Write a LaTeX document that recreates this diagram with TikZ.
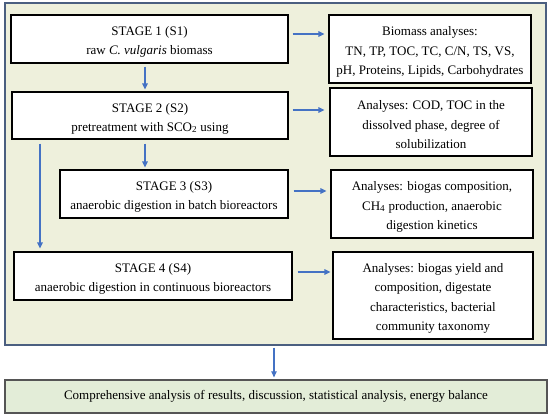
\documentclass[tikz,border=0pt]{standalone}
\usepackage{fontspec}
\setmainfont{Liberation Serif}
\usetikzlibrary{arrows.meta,calc}
\definecolor{panelfill}{HTML}{EEF0DC}
\definecolor{panelborder}{HTML}{4B5F80}
\definecolor{arrowblue}{HTML}{4472C4}
\definecolor{bottomfill}{HTML}{E3EDD8}
\definecolor{bottomborder}{HTML}{555555}
\newcommand{\topstrut}{\rule{0pt}{15pt}}
\tikzset{
  stagebox/.style={draw=black, line width=1.1pt, fill=white, align=center, inner sep=0pt,
    font=\fontsize{13}{19}\selectfont},
  anabox/.style={draw=black, line width=1.1pt, fill=white, align=center, inner sep=0pt,
    font=\fontsize{13}{19.5}\selectfont},
  arr/.style={draw=arrowblue, line width=1.1pt, -{Triangle[length=6pt,width=5.5pt]}}
}
\begin{document}
\begin{tikzpicture}[x=1pt,y=-1pt]
\useasboundingbox (0,0) rectangle (550,418);
\node[draw=panelborder, line width=1.4pt, fill=panelfill, minimum width=541pt, minimum height=342pt, inner sep=0pt] (panel) at (275.5,174) {};
\node[stagebox, minimum width=277pt, minimum height=48pt] (S1) at (149.5,39) {\topstrut STAGE 1 (S1)\\raw \textit{C. vulgaris} biomass};
\node[stagebox, minimum width=276pt, minimum height=47pt] (S2) at (150,115.5) {\topstrut STAGE 2 (S2)\\pretreatment with SCO\textsubscript{2} using};
\node[stagebox, minimum width=228pt, minimum height=48pt] (S3) at (174,194) {\topstrut STAGE 3 (S3)\\anaerobic digestion in batch bioreactors};
\node[stagebox, minimum width=278pt, minimum height=48pt] (S4) at (153,276) {\topstrut STAGE 4 (S4)\\anaerobic digestion in continuous bioreactors};
\node[anabox, minimum width=202pt, minimum height=68pt] (R1) at (430,49) {\topstrut Biomass analyses:\\TN, TP, TOC, TC, C/N, TS, VS,\\pH, Proteins, Lipids, Carbohydrates};
\node[anabox, minimum width=202pt, minimum height=68pt] (R2) at (431,122) {\topstrut Analyses: COD, TOC in the\\dissolved phase, degree of\\solubilization};
\node[anabox, minimum width=202pt, minimum height=68pt] (R3) at (432,204) {\topstrut Analyses: biogas composition,\\CH\textsubscript{4} production, anaerobic\\digestion kinetics};
\node[anabox, minimum width=200pt, minimum height=87pt] (R4) at (433,295.5) {\topstrut Analyses: biogas yield and\\composition, digestate\\characteristics, bacterial\\community taxonomy};
\node[draw=bottomborder, line width=1.3pt, fill=bottomfill, minimum width=542pt, minimum height=33pt, inner sep=0pt, font=\fontsize{13}{15}\selectfont] (B) at (276,396.5) {Comprehensive analysis of results, discussion, statistical analysis, energy balance};
% horizontal arrows
\coordinate (a1) at ([xshift=4pt,yshift=5pt]S1.east);
\draw[arr, shorten >=4pt] (a1) -- (a1 -| R1.west);
\coordinate (a2) at ([xshift=4pt,yshift=5.5pt]S2.east);
\draw[arr, shorten >=5pt] (a2) -- (a2 -| R2.west);
\coordinate (a3) at ([xshift=5pt,yshift=3pt]S3.east);
\draw[arr, shorten >=4pt] (a3) -- (a3 -| R3.west);
\coordinate (a4) at ([xshift=5pt,yshift=4pt]S4.east);
\draw[arr, shorten >=2pt] (a4) -- (a4 -| R4.west);
% vertical arrows
\coordinate (d1) at ([yshift=-3pt]S1.south -| 145,0);
\draw[arr, shorten >=2pt] (d1) -- (d1 |- S2.north);
\coordinate (d2) at ([yshift=-4pt]S2.south -| 145,0);
\draw[arr, shorten >=2pt] (d2) -- (d2 |- S3.north);
\coordinate (d3) at ([yshift=-4pt]S2.south -| 40,0);
\draw[arr, shorten >=3pt] (d3) -- (d3 |- S4.north);
\coordinate (d4) at ([yshift=-2pt]panel.south -| 274,0);
\draw[arr, shorten >=2pt] (d4) -- (d4 |- B.north);
\end{tikzpicture}
\end{document}
